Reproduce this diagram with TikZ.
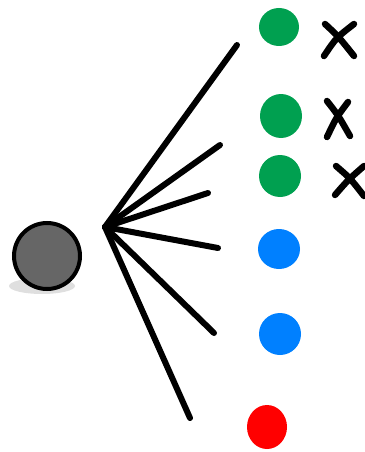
\documentclass[tikz,border=0pt]{standalone}
\begin{document}
\begin{tikzpicture}[x=1pt,y=-1pt,
  spoke/.style={line width=6pt,line cap=round,black},
  cross/.style={line width=6.5pt,line cap=round,black}]
\definecolor{dgreen}{RGB}{0,160,80}
\definecolor{dblue}{RGB}{0,128,255}
\definecolor{dred}{RGB}{255,0,0}
\useasboundingbox (0,0) rectangle (364,452);
% shadow and ball
\fill[gray!25] (42,286) ellipse [x radius=33, y radius=8];
\filldraw[fill=black!60,draw=black,line width=4pt] (47,256) circle [radius=33];
\node[coordinate] (ball) at (47,256) {};
% hub and spokes
\coordinate (hub) at (105,227);
\coordinate (e1) at (237,45);
\coordinate (e2) at (220,145);
\coordinate (e3) at (208,193);
\coordinate (e4) at (218,248);
\coordinate (e5) at (214,333);
\coordinate (e6) at (190,418);
\foreach \e in {e1,e2,e3,e4,e5,e6} \draw[spoke] (hub) -- (\e);
% dots
\fill[dgreen] (279,27) ellipse [x radius=20, y radius=19];
\fill[dgreen] (281,116) ellipse [x radius=21, y radius=22];
\fill[dgreen] (280,176) ellipse [x radius=21, y radius=21];
\fill[dblue] (279,249) ellipse [x radius=21, y radius=20];
\fill[dblue] (280,334) ellipse [x radius=21, y radius=21];
\fill[dred] (267,427) ellipse [x radius=20, y radius=22];
% crosses
\draw[cross] (325,24) .. controls (338,36) .. (354,56);
\draw[cross] (354,24) .. controls (336,38) .. (324,56);
\draw[cross] (327,101) .. controls (338,115) .. (350,136);
\draw[cross] (348,102) .. controls (336,118) .. (327,137);
\draw[cross] (336,166) .. controls (350,178) .. (364,196);
\draw[cross] (364,166) .. controls (348,180) .. (335,195);
\end{tikzpicture}
\end{document}
